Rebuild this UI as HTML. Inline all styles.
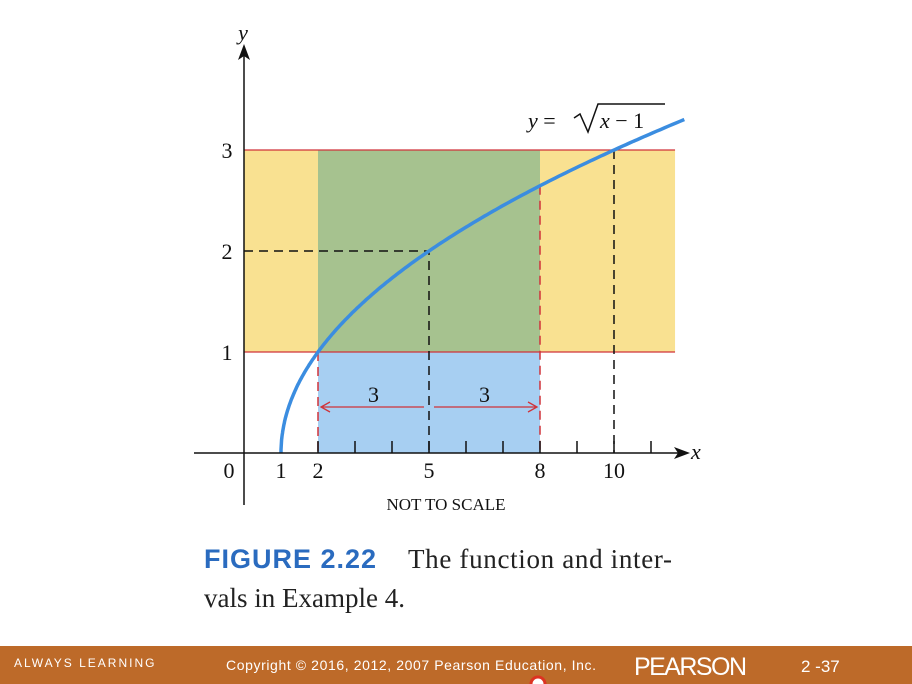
<!DOCTYPE html>
<html><head><meta charset="utf-8"><style>
body{margin:0;width:912px;height:684px;background:#fff;overflow:hidden;font-family:"Liberation Serif",serif}
</style></head><body>
<svg width="912" height="684" style="position:absolute;left:0;top:0">
<g id="chart"></g>
<text x="204" y="568" font-family="Liberation Sans" font-weight="bold" font-size="27" fill="#2a6bbf" textLength="172">FIGURE 2.22</text>
<text x="408" y="568" font-size="27" fill="#222" textLength="264">The function and inter-</text>
<text x="204" y="607" font-size="27" fill="#222">vals in Example 4.</text>
<rect x="0" y="646" width="912" height="38" fill="#bd6a29"/>
<text x="14" y="667" font-family="Liberation Sans" font-size="12" letter-spacing="2" fill="#fff">ALWAYS LEARNING</text>
<text x="226" y="670" font-family="Liberation Sans" font-size="14" fill="#fff" textLength="370">Copyright © 2016, 2012, 2007 Pearson Education, Inc.</text>
<text x="634" y="675" font-family="Liberation Sans" font-size="25" fill="#fff" textLength="113">PEARSON</text>
<text x="801" y="672" font-family="Liberation Sans" font-size="17" fill="#fff">2 -37</text>
<circle cx="538" cy="684" r="7" fill="#fff" stroke="#d32" stroke-width="3"/>
</svg>
<script>
const ticksX=[1,2,3,4,5,6,7,8,9,10,11];
const labelsX=[1,2,5,8,10];
const labelsY=[1,2,3];
const bandY=[1,3];
const intervalX=[2,8];
const curveRange=[1,11.9];
const point=[5,2];
const point2=[10,3];
const X=v=>244+37*v, Y=v=>453-101*v;
const g=document.getElementById('chart');
const NS='http://www.w3.org/2000/svg';
function el(t,a){const e=document.createElementNS(NS,t);for(const k in a)e.setAttribute(k,a[k]);g.appendChild(e);return e;}
let e;
e=el('rect',{x:X(0),y:Y(bandY[1]),width:X(11.65)-X(0),height:Y(bandY[0])-Y(bandY[1]),fill:'#f9e191'});

e=el('rect',{x:X(intervalX[0]),y:Y(bandY[1]),width:X(intervalX[1])-X(intervalX[0]),height:Y(bandY[0])-Y(bandY[1]),fill:'#a6c28f'});

e=el('rect',{x:X(intervalX[0]),y:Y(bandY[0]),width:X(intervalX[1])-X(intervalX[0]),height:Y(0)-Y(bandY[0]),fill:'#a7cff2'});

bandY.forEach(b=>{e=el('line',{x1:X(0),x2:X(11.65),y1:Y(b),y2:Y(b),stroke:'#d0333a','stroke-width':1.3});
});
intervalX.forEach(v=>{e=el('line',{x1:X(v),x2:X(v),y1:Y(Math.sqrt(v-1)),y2:Y(0),stroke:'#d0333a','stroke-width':1.5,'stroke-dasharray':'9,6'});
});
e=el('polyline',{points:`${X(0)},${Y(point[1])} ${X(point[0])},${Y(point[1])} ${X(point[0])},${Y(0)}`,fill:'none',stroke:'#111','stroke-width':1.5,'stroke-dasharray':'9,6'});

e=el('line',{x1:X(point2[0]),x2:X(point2[0]),y1:Y(point2[1]),y2:Y(0),stroke:'#111','stroke-width':1.5,'stroke-dasharray':'9,6'});

ticksX.forEach(v=>{e=el('line',{x1:X(v),x2:X(v),y1:Y(0)-12,y2:Y(0),stroke:'#111','stroke-width':1.5});
});
const ay=407;
e=el('line',{x1:X(2)+4,x2:X(5)-5,y1:ay,y2:ay,stroke:'#d0333a','stroke-width':1.3});
e=el('polyline',{points:`${X(2)+12},${ay-5} ${X(2)+3},${ay} ${X(2)+12},${ay+5}`,fill:'none',stroke:'#d0333a','stroke-width':1.3});
e=el('line',{x1:X(5)+5,x2:X(8)-4,y1:ay,y2:ay,stroke:'#d0333a','stroke-width':1.3});
e=el('polyline',{points:`${X(8)-12},${ay-5} ${X(8)-3},${ay} ${X(8)-12},${ay+5}`,fill:'none',stroke:'#d0333a','stroke-width':1.3});
[[3.5,'3'],[6.5,'3']].forEach(([v,t])=>{e=el('text',{x:X(v),y:402,'font-size':22,'text-anchor':'middle',fill:'#111'});e.textContent=t;
});
let pts=[];for(let i=0;i<=200;i++){const v=curveRange[0]+(curveRange[1]-curveRange[0])*Math.pow(i/200,2);pts.push(X(v).toFixed(1)+','+Y(Math.sqrt(v-1)).toFixed(1));}
e=el('polyline',{points:pts.join(' '),fill:'none',stroke:'#3b8de0','stroke-width':3.5});

e=el('line',{x1:194,x2:684,y1:Y(0),y2:Y(0),stroke:'#111','stroke-width':1.5});
e=el('polygon',{points:`690,${Y(0)} 674,${Y(0)-6} 678,${Y(0)} 674,${Y(0)+6}`,fill:'#111'});
e=el('line',{x1:X(0),x2:X(0),y1:50,y2:505,stroke:'#111','stroke-width':1.5});
e=el('polygon',{points:`${X(0)},44 ${X(0)-6},60 ${X(0)},56 ${X(0)+6},60`,fill:'#111'});
e=el('text',{x:691,y:459,'font-size':22,'font-style':'italic',fill:'#111'});e.textContent='x';
e=el('text',{x:243,y:40,'font-size':22,'font-style':'italic','text-anchor':'middle',fill:'#111'});e.textContent='y';
e=el('text',{x:229,y:478,'font-size':22,'text-anchor':'middle',fill:'#111'});e.textContent='0';
labelsX.forEach(v=>{e=el('text',{x:X(v),y:478,'font-size':22,'text-anchor':'middle',fill:'#111'});e.textContent=v;
});
labelsY.forEach(v=>{e=el('text',{x:227,y:Y(v)+8,'font-size':22,'text-anchor':'middle',fill:'#111'});e.textContent=v;
});
e=el('text',{x:446,y:510,'font-size':17,'text-anchor':'middle',fill:'#111'});e.textContent='NOT TO SCALE';
e=el('text',{x:528,y:128,'font-size':22,fill:'#111'});e.innerHTML='<tspan font-style="italic">y</tspan> = ';
e=el('polyline',{points:'574,118 580,114 588,132 598,104 665,104',fill:'none',stroke:'#111','stroke-width':1.5});
e=el('text',{x:600,y:128,'font-size':22,fill:'#111'});e.innerHTML='<tspan font-style="italic">x</tspan> − 1';
</script>
</body></html>
